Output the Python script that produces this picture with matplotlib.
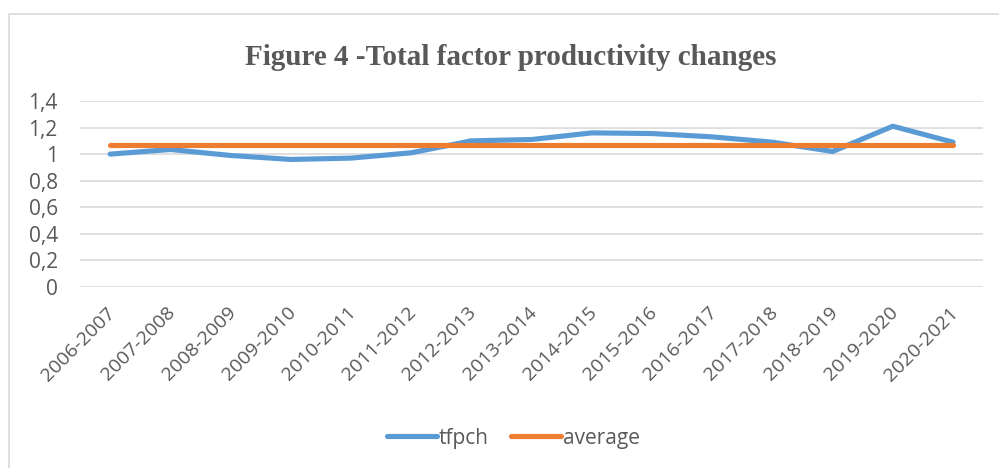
import matplotlib.pyplot as plt
import matplotlib.patches as mpatches
import matplotlib.transforms as mtransforms
from matplotlib.ticker import FuncFormatter

# data
periods = ['2006-2007', '2007-2008', '2008-2009', '2009-2010', '2010-2011',
           '2011-2012', '2012-2013', '2013-2014', '2014-2015', '2015-2016',
           '2016-2017', '2017-2018', '2018-2019', '2019-2020', '2020-2021']
tfpch = [1.00, 1.035, 0.99, 0.96, 0.97, 1.01, 1.10, 1.11, 1.16, 1.155,
         1.13, 1.09, 1.02, 1.21, 1.09]
average = [1.07] * len(periods)

blue = '#5B9BD5'
orange = '#ED7D31'
grey = '#595959'

plt.rcParams['font.family'] = ['Open Sans', 'DejaVu Sans']

fig = plt.figure(figsize=(9.99, 4.68), dpi=100)
ax = fig.add_axes([0.0801, 0.3868, 0.904, 0.3974])

# outer chart border
fig.patches.append(mpatches.Rectangle((9 / 999, -0.1), 1.2, (468 - 14) / 468 + 0.1,
                                      transform=fig.transFigure, fill=False,
                                      edgecolor='#D9D9D9', lw=1.2))

x = range(len(periods))
ax.plot(x, tfpch, color=blue, lw=3.7, solid_capstyle='round', label='tfpch', zorder=3)
ax.plot(x, average, color=orange, lw=3.7, solid_capstyle='round', label='average', zorder=3)

ax.set_xlim(-0.5, len(periods) - 0.5)
ax.set_ylim(0, 1.4)
ax.set_yticks([0, 0.2, 0.4, 0.6, 0.8, 1.0, 1.2, 1.4])
ax.yaxis.set_major_formatter(FuncFormatter(lambda v, p: f'{v:.1f}'.replace('.', ',') if round(v, 1) not in (0, 1) else f'{v:.0f}'))
ax.grid(axis='y', color='#D9D9D9', lw=1.2)
ax.set_axisbelow(True)
for s in ax.spines.values():
    s.set_visible(False)
ax.tick_params(length=0, labelcolor=grey)
ax.tick_params(axis='y', pad=16, labelsize=15)
ax.tick_params(axis='x', pad=12, labelsize=14)
ax.set_xticks(list(x))
ax.set_xticklabels(periods, rotation=45, ha='right', rotation_mode='anchor')
shift = mtransforms.ScaledTranslation(-4 / 100, 0, fig.dpi_scale_trans)
for lbl in ax.get_xticklabels():
    lbl.set_transform(lbl.get_transform() + shift)

fig.text(0.511, 0.878, 'Figure 4 -Total factor productivity changes',
         family='Liberation Serif', weight='bold', size=21, color=grey,
         ha='center', va='center')

fig.legend(loc='center', bbox_to_anchor=(0.514, 0.064), ncol=2, frameon=False,
           fontsize=15, labelcolor=grey, handlelength=2.4, columnspacing=1.05,
           handletextpad=0.12)

fig.savefig('out.png', dpi=100)
